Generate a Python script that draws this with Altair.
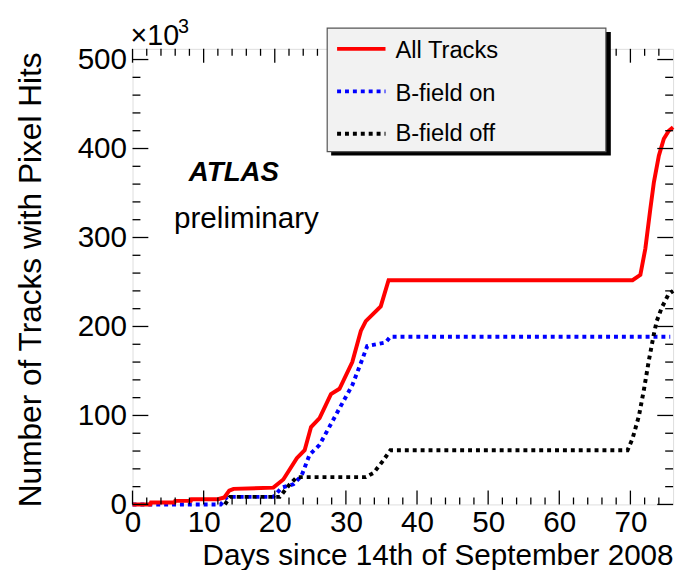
import altair as alt
import pandas as pd

FONT = "Liberation Sans"

# ---- data (thousands of tracks vs days) ----
red_day = [0, 2.5, 2.6, 5.9, 6.0, 8.2, 8.3, 12.0, 12.9, 13.6, 14.2, 19.8, 21.2, 23.1, 24.2, 25.1,
           26.3, 27.9, 29.1, 30.9, 32.1, 32.8, 34.9, 36.0, 70.3, 71.4, 72.1, 72.8, 73.3, 74.0,
           74.7, 75.4, 76.0]
red_val = [0, 0, 2.2, 2.2, 4, 4, 5.9, 5.9, 7.8, 15.5, 17.5, 18.9, 28, 52, 61, 87,
           97, 124, 130, 160, 195, 206, 222.6, 252, 252, 258, 287.5, 332, 362, 392,
           411, 420, 424]

blue_day = [0, 12.4, 13.3, 19.8, 21.0, 22.6, 23.75, 24.9, 26.3, 29.1, 30.9, 32.3, 33.0, 35.6, 36.25, 75.6]
blue_val = [0, 0, 8.5, 8.5, 19, 22.6, 32, 56, 67, 108, 134, 163, 178, 182, 188.5, 188.5]

black_day = [13.0, 13.7, 20.7, 22.1, 23.1, 32.8, 33.9, 35.1, 36.25, 69.6, 70.3, 71.2, 71.9,
             72.6, 73.3, 73.7, 74.4, 75.35, 76.0]
black_val = [0, 8.5, 8.5, 22.6, 30.7, 30.7, 35.5, 47.8, 61, 61, 74, 99.5, 129,
             162, 191.5, 206, 221, 236, 240]

legend_labels = ["All Tracks", "B-field on", "B-field off"]

x_major = [0, 10, 20, 30, 40, 50, 60, 70]
x_minor = [v for v in range(2, 76, 2) if v % 10 != 0]
y_major = [0, 100, 200, 300, 400, 500]
y_minor = [v for v in range(20, 512, 20) if v % 100 != 0]

W, H = 547, 461
XMAX, YMAX = 76, 512

xscale = alt.Scale(domain=[0, XMAX], nice=False, zero=False)
yscale = alt.Scale(domain=[0, YMAX], nice=False, zero=False)

x_axis = alt.Axis(values=x_major, format="d", ticks=False, tickSize=0, domain=False, grid=False,
                  labelFont=FONT, labelFontSize=30, labelColor="black", labelPadding=3,
                  labelFlush=False, labelOverlap=False,
                  title="Days since 14th of September 2008", titleFont=FONT, titleFontSize=30,
                  titleFontWeight="normal", titleColor="black", titleAnchor="end",
                  titleAlign="right", titleX=W, titleY=52, titleBaseline="middle")
y_axis = alt.Axis(values=y_major, format="d", ticks=False, tickSize=0, domain=False, grid=False,
                  labelFont=FONT, labelFontSize=30, labelColor="black", labelPadding=6,
                  labelFlush=False, labelOverlap=False,
                  title="Number of Tracks with Pixel Hits", titleFont=FONT, titleFontSize=32,
                  titleFontWeight="normal", titleColor="black", titleAnchor="end",
                  titleAlign="right", titleAngle=270, titleX=-103, titleY=3,
                  titleBaseline="middle")


def line_layer(days, vals, color, dash, width):
    df = pd.DataFrame({"day": days, "val": vals})
    mk = {"color": color, "strokeWidth": width, "strokeCap": "butt"}
    if dash:
        mk["strokeDash"] = dash
    return alt.Chart(df).mark_line(**mk).encode(
        x=alt.X("day:Q", scale=xscale, axis=x_axis),
        y=alt.Y("val:Q", scale=yscale, axis=y_axis),
    )


def yticks(vals, x0, x1):
    return alt.Chart(pd.DataFrame({"v": vals})).mark_rule(color="black", strokeWidth=1.3).encode(
        y=alt.Y("v:Q", scale=yscale, axis=y_axis), x=alt.value(x0), x2=alt.value(x1))


def xticks(vals, y0, y1):
    return alt.Chart(pd.DataFrame({"v": vals})).mark_rule(color="black", strokeWidth=1.3).encode(
        x=alt.X("v:Q", scale=xscale, axis=x_axis), y=alt.value(y0), y2=alt.value(y1))


def text_layer(txt, x, y, size, weight="normal", style="normal", align="left", baseline="alphabetic"):
    return alt.Chart(pd.DataFrame({"t": [txt]})).mark_text(
        font=FONT, fontSize=size, fontWeight=weight, fontStyle=style, align=align,
        baseline=baseline, color="black").encode(text="t:N", x=alt.value(x), y=alt.value(y))


layers = [
    line_layer(blue_day, blue_val, "#0000ff", [4, 4], 4),
    line_layer(black_day, black_val, "#000000", [4, 4], 4),
    line_layer(red_day, red_val, "#ff0000", None, 4),
    yticks(y_major, 0, 16), yticks(y_minor, 0, 8),
    yticks(y_major, W, W - 16), yticks(y_minor, W, W - 8),
    xticks(x_major, H, H - 14), xticks(x_minor, H, H - 7),
    xticks(x_major, 0, 14), xticks(x_minor, 0, 7),
    text_layer("ATLAS", 57, 134, 28, weight="bold", style="italic"),
    text_layer("preliminary", 42, 181, 30),
    text_layer("\u00d710", -2, -4, 29),
    text_layer("3", 46, -16, 20),
]

# legend box with shadow
box = pd.DataFrame({"a": [0]})
layers.append(alt.Chart(box).mark_rect(fill="black").encode(
    x=alt.value(201), x2=alt.value(484), y=alt.value(-17), y2=alt.value(108)))
layers.append(alt.Chart(box).mark_rect(fill="#f2f2f2", stroke="#555555", strokeWidth=1.2).encode(
    x=alt.value(197), x2=alt.value(479), y=alt.value(-21), y2=alt.value(104)))

leg_colors = ["#ff0000", "#0000ff", "#000000"]
leg_dash = [None, [4, 4], [4, 4]]
leg_line_y = [0, 43, 86]
leg_text_y = [9, 53, 93]
for lab, c, d, ly, ty in zip(legend_labels, leg_colors, leg_dash, leg_line_y, leg_text_y):
    mk = {"color": c, "strokeWidth": 4, "strokeCap": "butt"}
    if d:
        mk["strokeDash"] = d
    layers.append(alt.Chart(pd.DataFrame({"s": [lab]})).mark_rule(**mk).encode(
        x=alt.value(207), x2=alt.value(256), y=alt.value(ly)))
    layers.append(text_layer(lab, 266, ty, 24))

chart = alt.layer(*layers).properties(
    width=W, height=H,
    autosize="none",
    padding={"left": 126, "top": 38, "right": 7, "bottom": 63},
).configure_view(stroke="black", strokeWidth=1.5).configure(background="white")

chart.save("out.html", embed_options={"renderer": "svg", "actions": False})
